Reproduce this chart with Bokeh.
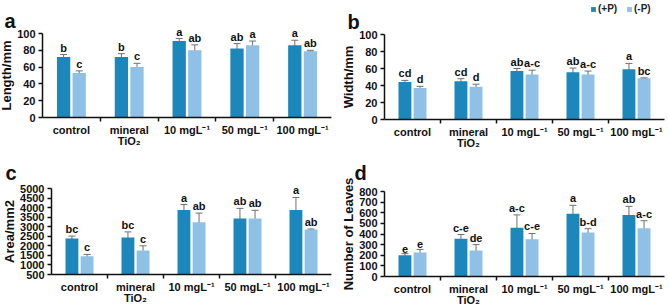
from bokeh.plotting import figure
from bokeh.models import (Range1d, FixedTicker, ColumnDataSource, Whisker, TeeHead,
                          Legend, LegendItem, Label)
from bokeh.layouts import row, column
from bokeh.embed import file_html
from bokeh.resources import INLINE
from bokeh.core.properties import value

categories = ["control", "mineral\nTiO\u2082", "10 mgL\u207b\u00b9", "50 mgL\u207b\u00b9", "100 mgL\u207b\u00b9"]
series_names = ["(+P)", "(-P)"]

# Panel a: Length/mm
len_plus = [72, 72, 91, 82, 86]
len_plus_err = [3, 4, 3, 6, 6]
len_minus = [53, 60, 80, 86, 79]
len_minus_err = [2.5, 4.5, 6.5, 5, 1]
len_plus_letters = ["b", "b", "a", "ab", "a"]
len_minus_letters = ["c", "c", "ab", "a", "ab"]

# Panel b: Width/mm
wid_plus = [44, 45, 57, 55.5, 59]
wid_plus_err = [2, 3, 3, 5, 7]
wid_minus = [37, 38.5, 53, 53, 48.5]
wid_minus_err = [2, 3, 5, 4, 0.5]
wid_plus_letters = ["cd", "cd", "ab", "ab", "a"]
wid_minus_letters = ["d", "d", "a-c", "a-c", "bc"]

# Panel c: Area/mm2
area_plus = [2380, 2430, 3880, 3430, 3880]
area_plus_err = [130, 300, 280, 530, 650]
area_minus = [1450, 1750, 3230, 3430, 2850]
area_minus_err = [100, 250, 480, 430, 30]
area_plus_letters = ["bc", "bc", "a", "ab", "a"]
area_minus_letters = ["c", "c", "ab", "ab", "ab"]

# Panel d: Number of Leaves
leaf_plus = [200, 355, 460, 590, 580]
leaf_plus_err = [15, 40, 120, 80, 80]
leaf_minus = [225, 245, 350, 415, 455]
leaf_minus_err = [30, 55, 55, 35, 70]
leaf_plus_letters = ["e", "c-e", "a-c", "a", "ab"]
leaf_minus_letters = ["e", "de", "c-e", "b-d", "a-c"]

DARK = "#1b87bb"
LIGHT = "#8fc1e6"
FONT = "Liberation Sans"
INK = "#111111"


def panel(tag, tag_x, tag_base, ylabel, y0, y1, ystep, plus, plus_err, minus, minus_err,
          lp, lm, w, h, ax_left, ax_right, py_top, py_bottom, legend=False):
    n = len(categories)
    # screen layout of the axes inside a frame that fills the whole figure
    kx = n / (w - ax_right - ax_left)
    ky = (y1 - y0) / (py_bottom - py_top)
    xr = Range1d(-ax_left * kx, n + ax_right * kx)
    yr = Range1d(y0 - (h - py_bottom) * ky, y1 + py_top * ky)
    p = figure(width=w, height=h, output_backend="svg", toolbar_location=None,
               x_range=xr, y_range=yr, min_border=0, min_border_left=0,
               min_border_right=0, min_border_top=0, min_border_bottom=0)
    p.outline_line_color = None
    p.xgrid.visible = False
    p.ygrid.visible = False
    off = 0.135
    bw = 0.23
    xp = [i + 0.5 - off for i in range(n)]
    xm = [i + 0.5 + off for i in range(n)]
    r1 = p.vbar(x=xp, top=plus, bottom=y0, width=bw, fill_color=DARK, line_color=None)
    r2 = p.vbar(x=xm, top=minus, bottom=y0, width=bw, fill_color=LIGHT, line_color=None)
    for xs, ms, es, ls in ((xp, plus, plus_err, lp), (xm, minus, minus_err, lm)):
        src = ColumnDataSource(dict(x=xs, lo=[m - e for m, e in zip(ms, es)],
                                    hi=[m + e for m, e in zip(ms, es)], t=ls))
        wk = Whisker(source=src, base="x", lower="lo", upper="hi", line_color="#707070",
                     line_width=1,
                     upper_head=TeeHead(size=7, line_color="#707070", line_width=1),
                     lower_head=TeeHead(size=7, line_color="#707070", line_width=1))
        p.add_layout(wk)
        p.text(x="x", y="hi", text="t", source=src, text_align="center",
               text_baseline="bottom", y_offset=-1, text_font=value(FONT),
               text_font_style="bold", text_font_size="11px", text_color=INK)
    # axes placed at fixed data locations inside the frame
    p.xaxis.fixed_location = y0
    p.yaxis.fixed_location = 0
    p.xaxis.bounds = (0, n)
    p.yaxis.bounds = (y0, y1)
    p.xaxis.ticker = FixedTicker(ticks=[i + 0.5 for i in range(n)],
                                 minor_ticks=list(range(1, n)))
    p.xaxis.major_label_overrides = {i + 0.5: c for i, c in enumerate(categories)}
    p.xaxis.major_tick_out = 0
    p.xaxis.major_tick_in = 0
    p.xaxis.minor_tick_out = 4
    p.xaxis.minor_tick_in = 0
    p.xaxis.minor_tick_line_width = 1.5
    p.xaxis.minor_tick_line_color = INK
    p.xaxis.major_label_standoff = 2
    p.xaxis.major_label_text_line_height = 0.95
    p.yaxis.ticker = FixedTicker(ticks=list(range(y0, y1 + 1, ystep)))
    p.yaxis.minor_tick_line_color = None
    p.yaxis.major_tick_out = 4
    p.yaxis.major_tick_in = 0
    p.yaxis.major_tick_line_width = 1.5
    p.yaxis.major_label_standoff = 3
    p.yaxis.axis_label = ylabel
    p.yaxis.axis_label_standoff = 0
    for ax in (p.xaxis[0], p.yaxis[0]):
        ax.axis_line_width = 1.5
        ax.major_label_text_font = FONT
        ax.major_label_text_font_style = "bold"
        ax.major_label_text_font_size = "11px"
        ax.major_label_text_color = INK
        ax.axis_line_color = INK
        ax.major_tick_line_color = INK
        ax.axis_label_text_font = FONT
        ax.axis_label_text_font_style = "bold"
        ax.axis_label_text_font_size = "13px"
        ax.axis_label_text_color = INK
    p.add_layout(Label(x=tag_x, y=h - tag_base, x_units="screen", y_units="screen",
                       text=tag, text_font=FONT, text_font_style="bold",
                       text_baseline="alphabetic",
                       text_font_size="20px", text_color=INK))
    if legend:
        lg = Legend(items=[LegendItem(label=series_names[0], renderers=[r1]),
                           LegendItem(label=series_names[1], renderers=[r2])],
                    orientation="horizontal",
                    location=(w - 79, h - 14),
                    glyph_width=6, glyph_height=6, label_text_font=FONT,
                    label_text_font_style="bold", label_text_font_size="10px",
                    label_text_color="#222222", label_height=10,
                    label_standoff=2, spacing=8, padding=0, margin=0,
                    border_line_color=None, background_fill_alpha=0)
        p.add_layout(lg)
    return p


pa = panel("a", 4, 20, "Length/mm", 0, 100, 20, len_plus, len_plus_err, len_minus,
           len_minus_err, len_plus_letters, len_minus_letters, 335, 150, 42, 4, 33, 117)
pb = panel("b", 12, 21, "Width/mm", 0, 100, 20, wid_plus, wid_plus_err, wid_minus,
           wid_minus_err, wid_plus_letters, wid_minus_letters, 334, 150, 49, 5, 34, 119,
           legend=True)
pc = panel("c", 5, 22, "Area/mm2", 500, 5000, 500, area_plus, area_plus_err, area_minus,
           area_minus_err, area_plus_letters, area_minus_letters, 335, 156, 51, 4, 38, 124)
pd_ = panel("d", 19, 22, "Number of Leaves", 0, 800, 100, leaf_plus, leaf_plus_err,
            leaf_minus, leaf_minus_err, leaf_plus_letters, leaf_minus_letters,
            334, 156, 49, 5, 41, 126)

layout = column(row(pa, pb, spacing=0), row(pc, pd_, spacing=0), spacing=0)
open("out.html", "w").write(file_html(layout, INLINE))
